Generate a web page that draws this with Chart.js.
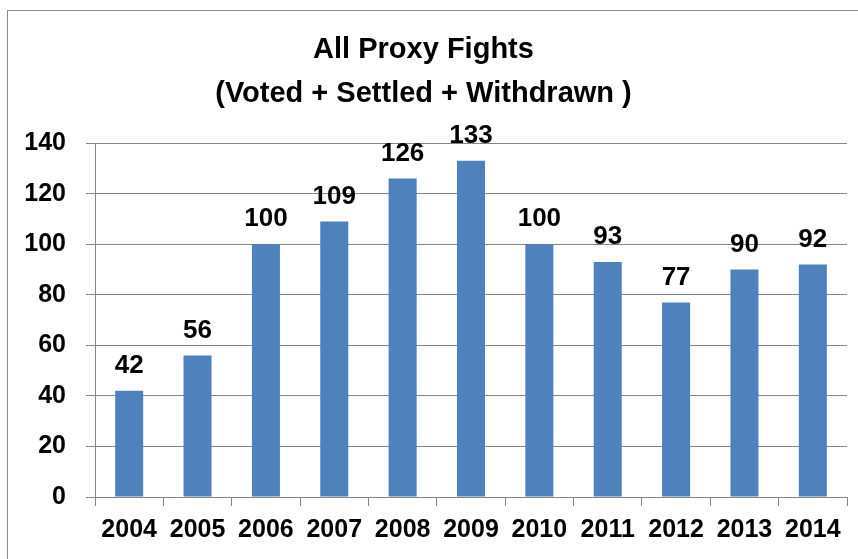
<!DOCTYPE html>
<html>
<head>
<meta charset="utf-8">
<script src="https://cdn.jsdelivr.net/npm/chart.js@4/dist/chart.umd.min.js"></script>
<style>
    html, body { margin: 0; padding: 0; background: #fff; overflow: hidden; }
    .chart-box { position: relative; width: 858px; height: 559px; }
    .frame { position: absolute; left: 7px; top: 10px; width: 900px; height: 600px; border: 1px solid #8c8c8c; }
    canvas { position: absolute; left: 0; top: 0; }
</style>
</head>
<body>
<div class="chart-box">
    <div class="frame"></div>
    <canvas id="proxyChart" width="858" height="559"></canvas>
</div>
<script>
// chart data
const years = ['2004', '2005', '2006', '2007', '2008', '2009', '2010', '2011', '2012', '2013', '2014'];
const fights = [42, 56, 100, 109, 126, 133, 100, 93, 77, 90, 92];
const titleLines = ['All Proxy Fights', '(Voted + Settled + Withdrawn )'];

const FONT = '"Liberation Sans", Arial, sans-serif';
let proxyChart = null;

// value labels above each bar
const barLabels = {
    id: 'barLabels',
    afterDatasetsDraw(chart) {
        const ctx = chart.ctx;
        const meta = chart.getDatasetMeta(0);
        ctx.save();
        ctx.font = 'bold 26px ' + FONT;
        ctx.fillStyle = '#000';
        ctx.textAlign = 'center';
        ctx.textBaseline = 'middle';
        meta.data.forEach((bar, i) => {
            ctx.fillText(String(fights[i]), bar.x, bar.y - 25);
        });
        ctx.restore();
    }
};

document.addEventListener('DOMContentLoaded', function() {
    createChart();
});

function createChart() {
    const ctx = document.getElementById('proxyChart');
    if (!ctx) return;

    proxyChart = new Chart(ctx, {
        type: 'bar',
        data: {
            labels: years,
            datasets: [{
                data: fights,
                backgroundColor: '#4F81BD',
                borderWidth: 0,
                categoryPercentage: 1,
                barPercentage: 0.41
            }]
        },
        options: {
            responsive: false,
            animation: false,
            layout: {
                padding: { top: 28, right: 11, bottom: 5, left: 0 }
            },
            plugins: {
                legend: { display: false },
                tooltip: { enabled: false },
                title: {
                    display: true,
                    text: titleLines,
                    color: '#000',
                    font: { family: FONT, size: 29, weight: 'bold', lineHeight: 1.52 },
                    padding: { top: 0, bottom: 27 }
                }
            },
            scales: {
                x: {
                    grid: {
                        offset: true,
                        drawOnChartArea: false,
                        drawTicks: true,
                        tickLength: 9,
                        color: '#868686'
                    },
                    border: { color: '#868686' },
                    ticks: {
                        color: '#000',
                        padding: 9,
                        maxRotation: 0,
                        font: { family: FONT, size: 25, weight: 'bold' }
                    }
                },
                y: {
                    min: 0,
                    max: 140,
                    afterFit(scale) { scale.width = 95; },
                    grid: {
                        color: '#868686',
                        tickLength: 9
                    },
                    border: { color: '#868686' },
                    ticks: {
                        stepSize: 20,
                        color: '#000',
                        padding: 20,
                        font: { family: FONT, size: 25, weight: 'bold' }
                    }
                }
            }
        },
        plugins: [barLabels]
    });
}
</script>
</body>
</html>
